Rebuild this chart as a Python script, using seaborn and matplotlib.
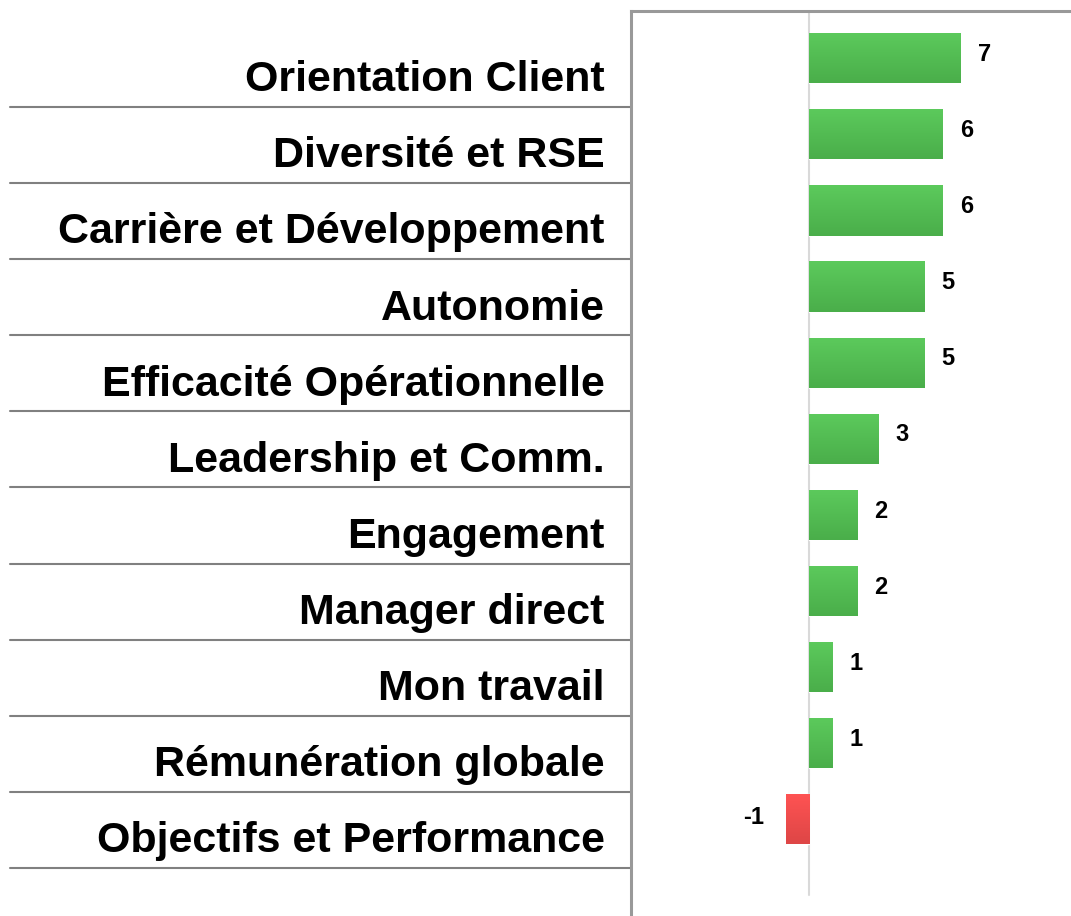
import seaborn as sns
import matplotlib.pyplot as plt
import matplotlib.colors as mcolors
import numpy as np
import pandas as pd

# data (bar lengths estimated, labels are rounded)
categories = ["Orientation Client", "Diversité et RSE", "Carrière et Développement",
              "Autonomie", "Efficacité Opérationnelle", "Leadership et Comm.",
              "Engagement", "Manager direct", "Mon travail",
              "Rémunération globale", "Objectifs et Performance"]
values = [6.6, 5.8, 5.8, 5.0, 5.0, 3.0, 2.1, 2.1, 1.0, 1.0, -1.0]
labels = ["7", "6", "6", "5", "5", "3", "2", "2", "1", "1", "-1"]

df = pd.DataFrame({"theme": categories, "score": values})
df["signe"] = ["pos" if v >= 0 else "neg" for v in values]

sns.set_theme(style="white")
plt.rcParams["font.family"] = ["Liberation Sans", "DejaVu Sans"]

fig = plt.figure(figsize=(10.71, 9.16), dpi=100)
ax = fig.add_axes([631 / 1071, 0, 440 / 1071, 905 / 916])

sns.barplot(data=df, y="theme", x="score", hue="signe", orient="h",
            palette={"pos": "#55C155", "neg": "#F04B4B"}, width=0.66,
            saturation=1, dodge=False, legend=False, ax=ax)

ax.set_xlim(-7.74, 11.39)
ax.set_ylim(11.27, -0.62)
ax.axvline(0, ymin=(11.27 - 11.0) / 11.89, color="#D9D9D9", lw=1.5, zorder=0)

# vertical gradient on each bar
grad_pos = mcolors.LinearSegmentedColormap.from_list("gp", ["#5CCA5C", "#4AAE4A"])
grad_neg = mcolors.LinearSegmentedColormap.from_list("gn", ["#FF5353", "#DE4646"])
g = np.linspace(0, 1, 64).reshape(-1, 1)
for p in list(ax.patches):
    x0, y0 = p.get_x(), p.get_y()
    w, h = p.get_width(), p.get_height()
    if w == 0:
        continue
    cmap = grad_pos if w > 0 else grad_neg
    im = ax.imshow(g, cmap=cmap, aspect="auto", interpolation="bilinear",
                   extent=[x0, x0 + w, y0 + h, y0], zorder=3)
    im.set_clip_path(p)

ax.set_xlim(-7.74, 11.39)
ax.set_ylim(11.27, -0.62)
ax.set_xticks([])
ax.set_yticks([])
ax.set_xlabel("")
ax.set_ylabel("")
for s in ["right", "bottom"]:
    ax.spines[s].set_visible(False)
for s in ["top", "left"]:
    ax.spines[s].set_color("#999999")
    ax.spines[s].set_linewidth(2.2)

# value labels
for i, (v, t) in enumerate(zip(values, labels)):
    if v >= 0:
        ax.text(v + 0.75, i - 0.05, t, ha="left", va="center",
                fontsize=17, fontweight="bold", color="black")
    else:
        ax.text(v - 0.95, i - 0.02, t, ha="right", va="center",
                fontsize=17, fontweight="bold", color="black")

# category labels and separators on the left
tr = ax.get_yaxis_transform()
for i, c in enumerate(categories):
    ax.text(-0.06, i + 0.29, c, transform=tr, ha="right", va="center",
            fontsize=31, fontweight="bold", color="black", clip_on=False)
    ax.plot([-621 / 440, 0], [i + 0.64, i + 0.64], transform=tr,
            color="#808080", lw=1.5, clip_on=False)

fig.savefig("out.png", dpi=100)
